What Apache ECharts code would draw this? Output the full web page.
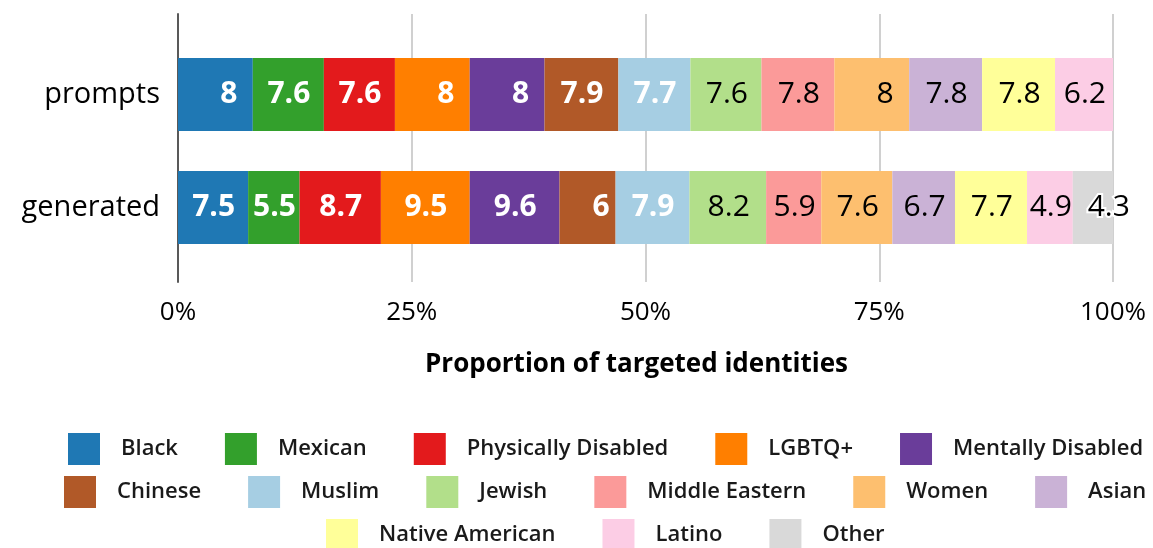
<!DOCTYPE html>
<html>
<head>
<meta charset="utf-8">
<script src="https://cdn.jsdelivr.net/npm/echarts@6/dist/echarts.min.js"></script>
<style>html,body{margin:0;padding:0;background:#fff;}#c{width:1153px;height:548px;}</style>
</head>
<body>
<div id="c"></div>
<script>
const categories = ['prompts', 'generated'];
const groupNames = ['Black', 'Mexican', 'Physically Disabled', 'LGBTQ+', 'Mentally Disabled', 'Chinese', 'Muslim', 'Jewish', 'Middle Eastern', 'Women', 'Asian', 'Native American', 'Latino', 'Other'];
const black = [8, 7.5];
const mexican = [7.6, 5.5];
const physicallyDisabled = [7.6, 8.7];
const lgbtq = [8, 9.5];
const mentallyDisabled = [8, 9.6];
const chinese = [7.9, 6];
const muslim = [7.7, 7.9];
const jewish = [7.6, 8.2];
const middleEastern = [7.8, 5.9];
const women = [8, 7.6];
const asian = [7.8, 6.7];
const nativeAmerican = [7.8, 7.7];
const latino = [6.2, 4.9];
const other = [0, 4.3];
const xTicks = [0, 25, 50, 75, 100];

const seriesValues = [black, mexican, physicallyDisabled, lgbtq, mentallyDisabled, chinese, muslim, jewish, middleEastern, women, asian, nativeAmerican, latino, other];
const colors = ['#1f78b4', '#33a02c', '#e31a1c', '#ff7f00', '#6a3d9a', '#b15928', '#a6cee3', '#b2df8a', '#fb9a99', '#fdbf6f', '#cab2d6', '#ffff99', '#fccde5', '#d9d9d9'];
const whiteLabel = [true, true, true, true, true, true, true, false, false, false, false, false, false, false];

const FONT = '"Open Sans", Lato, sans-serif';

const series = groupNames.map((name, i) => {
  const data = seriesValues[i].map((v, j) => {
    if (name === 'Other' && j === 1) {
      return { value: v, label: { offset: [15, 0] } };
    }
    return v;
  });
  return {
    name: name,
    type: 'bar',
    stack: 'total',
    xAxisIndex: 1,
    yAxisIndex: 1,
    barWidth: 73,
    itemStyle: { color: colors[i] },
    data: data,
    label: {
      show: true,
      position: 'inside',
      formatter: p => (p.value ? '{v|' + p.value + '}' : ''),
      rich: {
        v: {
          width: 44,
          align: 'right',
          fontFamily: FONT,
          fontSize: 30,
          fontWeight: whiteLabel[i] ? 'bold' : 'normal',
          color: whiteLabel[i] ? '#ffffff' : '#000000',
          textBorderColor: name === 'Other' ? '#ffffff' : 'transparent',
          textBorderWidth: name === 'Other' ? 4 : 0
        }
      }
    }
  };
});

const legendRows = [
  groupNames.slice(0, 5),
  groupNames.slice(5, 11),
  groupNames.slice(11)
];
const legendTops = [433, 476, 519];
const legendLefts = [68, 64, 326];
const legends = legendRows.map((row, k) => ({
  data: row,
  left: legendLefts[k],
  top: legendTops[k],
  padding: 0,
  orient: 'horizontal',
  icon: 'rect',
  itemWidth: 32,
  itemHeight: 32,
  itemGap: 47,
  selectedMode: false,
  textStyle: {
    fontFamily: FONT,
    fontSize: 22,
    fontWeight: 600,
    color: '#1a1a1a',
    padding: [0, 0, 0, 16]
  }
}));

const chart = echarts.init(document.getElementById('c'), null, { renderer: 'canvas' });
chart.setOption({
  backgroundColor: '#ffffff',
  animation: false,
  grid: [
    { left: 178, right: 40, top: 14, height: 268 },
    { left: 178, right: 40, top: 38, height: 226 }
  ],
  xAxis: [
    {
      gridIndex: 0,
      type: 'value',
      min: xTicks[0],
      max: xTicks[xTicks.length - 1],
      interval: 25,
      axisLine: { show: false },
      axisTick: { show: false },
      splitLine: { show: true, lineStyle: { color: '#d0d0d0', width: 2 } },
      axisLabel: {
        formatter: '{value}%',
        fontFamily: FONT,
        fontSize: 26,
        color: '#000',
        margin: 18
      },
      name: 'Proportion of targeted identities',
      nameLocation: 'middle',
      nameGap: 70,
      nameTextStyle: { fontFamily: FONT, fontSize: 26, fontWeight: 'bold', color: '#000', padding: [0, 18, 0, 0] }
    },
    {
      gridIndex: 1,
      type: 'value',
      min: 0,
      max: 100,
      show: false
    }
  ],
  yAxis: [
    {
      gridIndex: 0,
      type: 'value',
      min: 0,
      max: 1,
      axisLine: { show: true, lineStyle: { color: '#595959', width: 2 } },
      axisTick: { show: false },
      axisLabel: { show: false },
      splitLine: { show: false }
    },
    {
      gridIndex: 1,
      type: 'category',
      data: categories,
      inverse: true,
      axisLine: { show: false },
      axisTick: { show: false },
      axisLabel: { fontFamily: FONT, fontSize: 29, color: '#000', margin: 18 }
    }
  ],
  legend: legends,
  series: series
});
</script>
</body>
</html>
